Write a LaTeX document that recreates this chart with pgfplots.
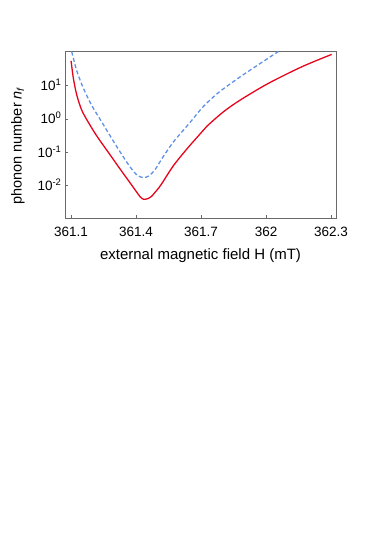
\documentclass[border=0pt]{standalone}
\usepackage{fontspec}
\setmainfont{Liberation Sans}
\usepackage{pgfplots}
\pgfplotsset{compat=1.18}
\definecolor{cRed}{RGB}{230,5,28}
\definecolor{cBlue}{RGB}{95,145,232}
\definecolor{cFrame}{RGB}{105,105,105}

\begin{document}
\begin{tikzpicture}
\useasboundingbox (0,0) rectangle (382pt,539pt);
\begin{axis}[
    at={(65pt,320.7pt)}, anchor=south west,
    scale only axis, width=271pt, height=166.8pt,
    ymode=log,
    xmin=361.072, xmax=362.323, ymin=1.07e-3, ymax=105,
    xtick={361.1,361.4,361.7,362,362.3},
    xticklabels={361.1,361.4,361.7,362,362.3},
    ytick={0.01,0.1,1,10},
    yticklabels={10\textsuperscript{-2},10\textsuperscript{-1},10\textsuperscript{0},10\textsuperscript{1}},
    yminorticks=false,
    tick pos=left, tick align=inside, major tick length=3.5pt,
    axis line style={cFrame, line width=0.9pt},
    tick style={cFrame, line width=0.9pt},
    tick label style={font=\fontsize{13.5}{15}\selectfont},
    xticklabel style={anchor=center, yshift=-14pt},
    yticklabel style={anchor=base east, yshift=-4.8pt},
    xlabel={external magnetic field H (mT)},
    ylabel={phonon number \textit{n}\textsubscript{\textit{f}}},
    every axis x label/.style={at={(axis description cs:0.5,0)}, yshift=-37.4pt, anchor=center, font=\fontsize{15}{17}\selectfont},
    every axis y label/.style={at={(axis description cs:0,0.435)}, xshift=-47pt, rotate=90, anchor=center, font=\fontsize{14.5}{17}\selectfont},
]
% red solid
\addplot[cRed, line width=1.3pt, smooth] coordinates {
  (361.100,55) (361.1106,16.6) (361.1263,5.25) (361.149,1.86) (361.180,0.794)
  (361.220,0.302) (361.280,0.0851) (361.330,0.0295) (361.368,0.01349)
  (361.400,0.00692) (361.418,0.00479) (361.434,0.00398)
  (361.455,0.00417) (361.472,0.0049) (361.488,0.00646) (361.505,0.00871)
  (361.526,0.0138) (361.572,0.0398) (361.634,0.126) (361.695,0.355)
  (361.726,0.60) (361.803,1.64) (361.880,3.67) (362.010,11.6)
  (362.165,36.6) (362.303,86)
};
% blue dashed
\addplot[cBlue, line width=1.3pt, smooth, dash pattern=on 4pt off 2.5pt] coordinates {
  (361.103,104) (361.126,28.2) (361.157,8.32) (361.196,2.51) (361.240,0.851)
  (361.280,0.316) (361.326,0.1047) (361.372,0.0372) (361.405,0.0209)
  (361.434,0.0176) (361.457,0.0195) (361.472,0.0234) (361.488,0.0309)
  (361.503,0.0437) (361.526,0.0759) (361.572,0.205) (361.618,0.46)
  (361.657,0.91) (361.695,1.82) (361.730,3.16) (361.788,6.76)
  (361.880,18.2) (361.949,36.3) (362.057,105)
};
\end{axis}
\end{tikzpicture}
\end{document}
